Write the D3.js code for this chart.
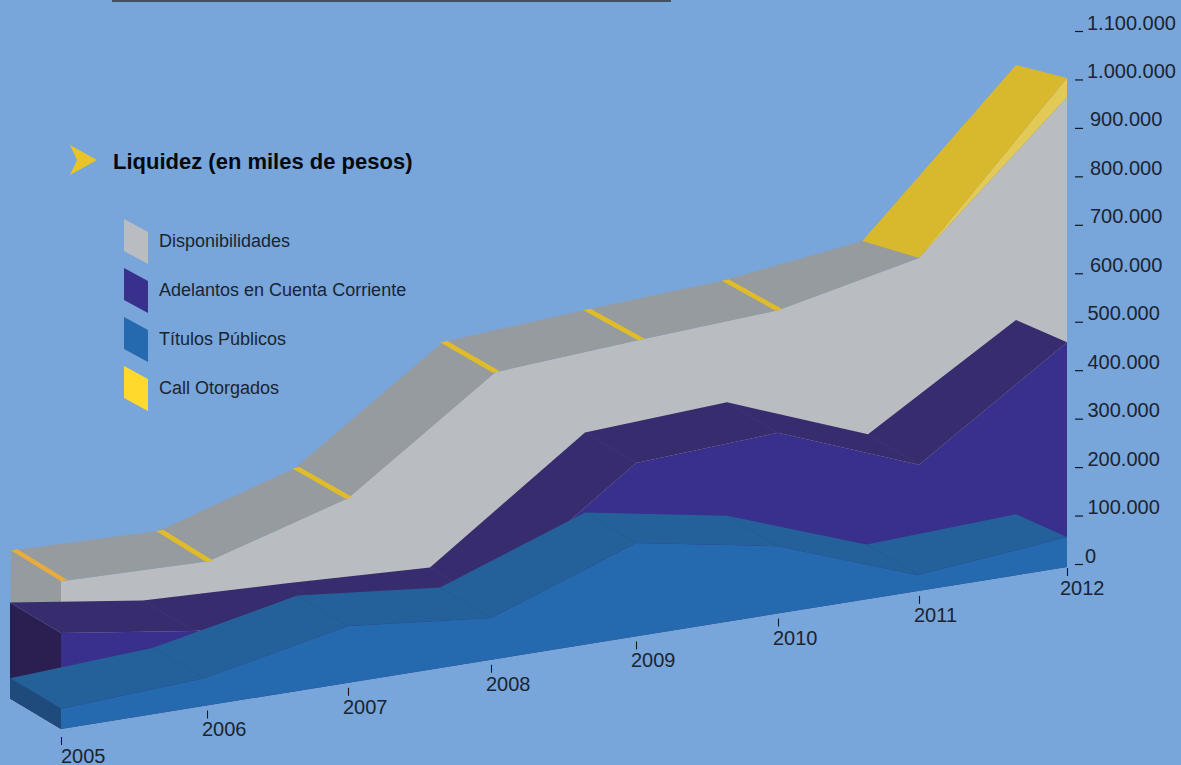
<!DOCTYPE html>
<html><head><meta charset="utf-8">
<style>html,body{margin:0;padding:0;background:#78a6da;overflow:hidden}svg{display:block}text{font-family:"Liberation Sans",Arial,sans-serif}</style>
<script src="https://cdnjs.cloudflare.com/ajax/libs/d3/7.8.5/d3.min.js"></script></head><body>
<svg id="c" width="1181" height="765"></svg>
<script>
// Values in thousands of pesos
const years = [2005,2006,2007,2008,2009,2010,2011,2012];
const titulos = [42,57,117,86,193,139,33,62];
const adelantos = [156,101,29,45,165,234,227,402];
const disponibilidades = [107,139,235,461,253,253,427,506];
const callOtorgados = [3,3,3,3,3,3,0,39];
// Slight shifts of the drawn vertices on the time axis, in years
const titulosYears = [2005,2005.98,2007,2008,2009,2010,2010.99,2012];
const adelantosYears = [2005,2005.91,2006.93,2007.93,2009,2010,2011,2012];
const dispYears = [2005,2006.01,2007,2008.03,2009.03,2010,2011,2012];
const dispBackYears = [2005.007,2006.02,2006.986,2008.02,2009.007,2009.98,2010.96,2012];
// Drop of the back edge relative to the front edge, in thousands
const titulosBackDrop = [0,0,0,0,0,0,0,16];
const adelantosBackDrop = [0,0,0,0,0,0,0,17];
const dispBackDrop = [0,0,0,0,0,0,26,0];
const callBackDrop = 36;
const yTicks = [0,100000,200000,300000,400000,500000,600000,700000,800000,900000,1000000,1100000];
const legendLabels = ["Disponibilidades","Adelantos en Cuenta Corriente","Títulos Públicos","Call Otorgados"];
const legendColors = ["#b9bcc1","#38308c","#2569ae","#ffd92b"];

const ink = "#1b2431";
const svg = d3.select("#c");
const x = d3.scaleLinear().domain(years).range([61,207,348,491,636,778,919,1067]);
const y = d3.scaleLinear().domain([0,1100000]).range([564,31]);
const base = d3.scaleLinear().domain([61,1067]).range([729,567]);
const depth = {x:-51, y:-30.5};
const h = k => y(0) - y(k*1000);
const front = (yr,total) => { const px=x(yr); return [px, base(px)-h(total)]; };
const back = (yr,total) => { const px=x(yr); return [px+depth.x, base(px)-h(total)+depth.y]; };
const cum1 = titulos;
const cum2 = cum1.map((v,i)=>v+adelantos[i]);
const cum3 = cum2.map((v,i)=>v+disponibilidades[i]);
const line = d3.line();
const poly = (pts,fill) => svg.append("path").attr("d",line(pts)+"Z").attr("fill",fill);

function drawLayer(yrs, backYrs, totals, drop, cols){
  const F = yrs.map((t,i)=>front(t,totals[i]));
  const B = backYrs.map((t,i)=>back(t,totals[i]-drop[i]));
  const n = yrs.length-1;
  const bot = [front(2005,0), back(2005,0)];
  poly([B[0],F[0],bot[0],bot[1]], cols.side);
  poly(F.concat([[x(2012),base(x(2012))],[x(2005),base(x(2005))]]), cols.front);
  poly(B.concat(F.slice().reverse()), cols.top);
  if(cols.seam){
    yrs.forEach((t,i)=>{ if(i<n) svg.append("path").attr("d",line([B[i],F[i]])).attr("stroke",cols.seam).attr("stroke-width",.6).attr("stroke-opacity",i===0?.9:.55).attr("fill","none"); });
  }
  return {F,B};
}
// Disponibilidades with Call on top
const topLayer = drawLayer(dispYears, dispBackYears, cum3, dispBackDrop, {side:"#969b9f",front:"#b9bcc1",top:"#969b9f"});
callOtorgados.forEach((v,i)=>{
  if(v>0 && i<6){
    const B=topLayer.B[i], F=topLayer.F[i], a=i===0?0:-2.5, b=i===0?6.5:4.5;
    poly([[B[0]+a,B[1]-a*.2],[B[0]+b,B[1]-b*.2],[F[0]+b,F[1]-b*.2],[F[0]+a,F[1]-a*.2]], i===0?"#e8ab3e":"#e0bc2a");
  }
});
const callTop = cum3[7]+callOtorgados[7];
const cF = front(2012,callTop), cB = back(2012,callTop-callBackDrop);
poly([topLayer.F[6],cF,topLayer.F[7]],"#e3c955");
poly([topLayer.B[6],cB,cF,topLayer.F[6]],"#d8b82c");
// Adelantos
drawLayer(adelantosYears, adelantosYears, cum2, adelantosBackDrop, {side:"#2a1f50",front:"#38308c",top:"#372c6e",seam:"#4b4384"});
// Títulos
drawLayer(titulosYears, titulosYears, cum1, titulosBackDrop, {side:"#1f4a7c",front:"#2569ae",top:"#246099",seam:"#1f5288"});

// x axis
const gap = yr => yr===2005?8:(yr===2012?1:5);
const xg = svg.append("g");
years.forEach(yr=>{
  const px=x(yr), by=base(px)+gap(yr);
  xg.append("line").attr("x1",px+.5).attr("x2",px+.5).attr("y1",by).attr("y2",by+8).attr("stroke","#111821").attr("stroke-width",1.1);
  xg.append("text").attr("x",yr===2005?px:px-(yr===2012?7:5)).attr("y",by+(yr===2012?27:26)).attr("font-size",20).style("fill",ink).text(yr);
});
// y axis
const loc = d3.formatLocale({thousands:".",grouping:[3],decimal:",",currency:["",""]});
const axis = d3.axisRight(y).tickValues(yTicks).tickFormat(loc.format(",d")).tickSize(8).tickPadding(4);
const yg = svg.append("g").attr("transform","translate(1075,0)").call(axis);
yg.select(".domain").remove();
yg.selectAll("line").attr("stroke","#111821").attr("stroke-width",1.2);
yg.selectAll("text").attr("font-size",20).attr("font-family",null).attr("dy",0).attr("y",-2).style("fill",ink)
  .attr("x",d=>d===0?10:(d>=600000&&d<=900000?15:(d<600000?12.5:12)));

// header
svg.append("line").attr("x1",112).attr("x2",671).attr("y1",1).attr("y2",1).attr("stroke","#2f333a").attr("stroke-width",1.5);
poly([[70,145],[97,160],[70,175],[77,160]],"#e8c32a");
svg.append("text").attr("x",113).attr("y",169).attr("font-size",22).attr("font-weight","bold").style("fill","#05090f").text("Liquidez (en miles de pesos)");
// legend
legendLabels.forEach((l,i)=>{
  const t=219+i*49;
  poly([[124,t],[148,t+13],[148,t+45],[124,t+32]],legendColors[i]);
  svg.append("text").attr("x",159).attr("y",t+28).attr("font-size",18).style("fill",ink).text(l);
});
</script></body></html>
